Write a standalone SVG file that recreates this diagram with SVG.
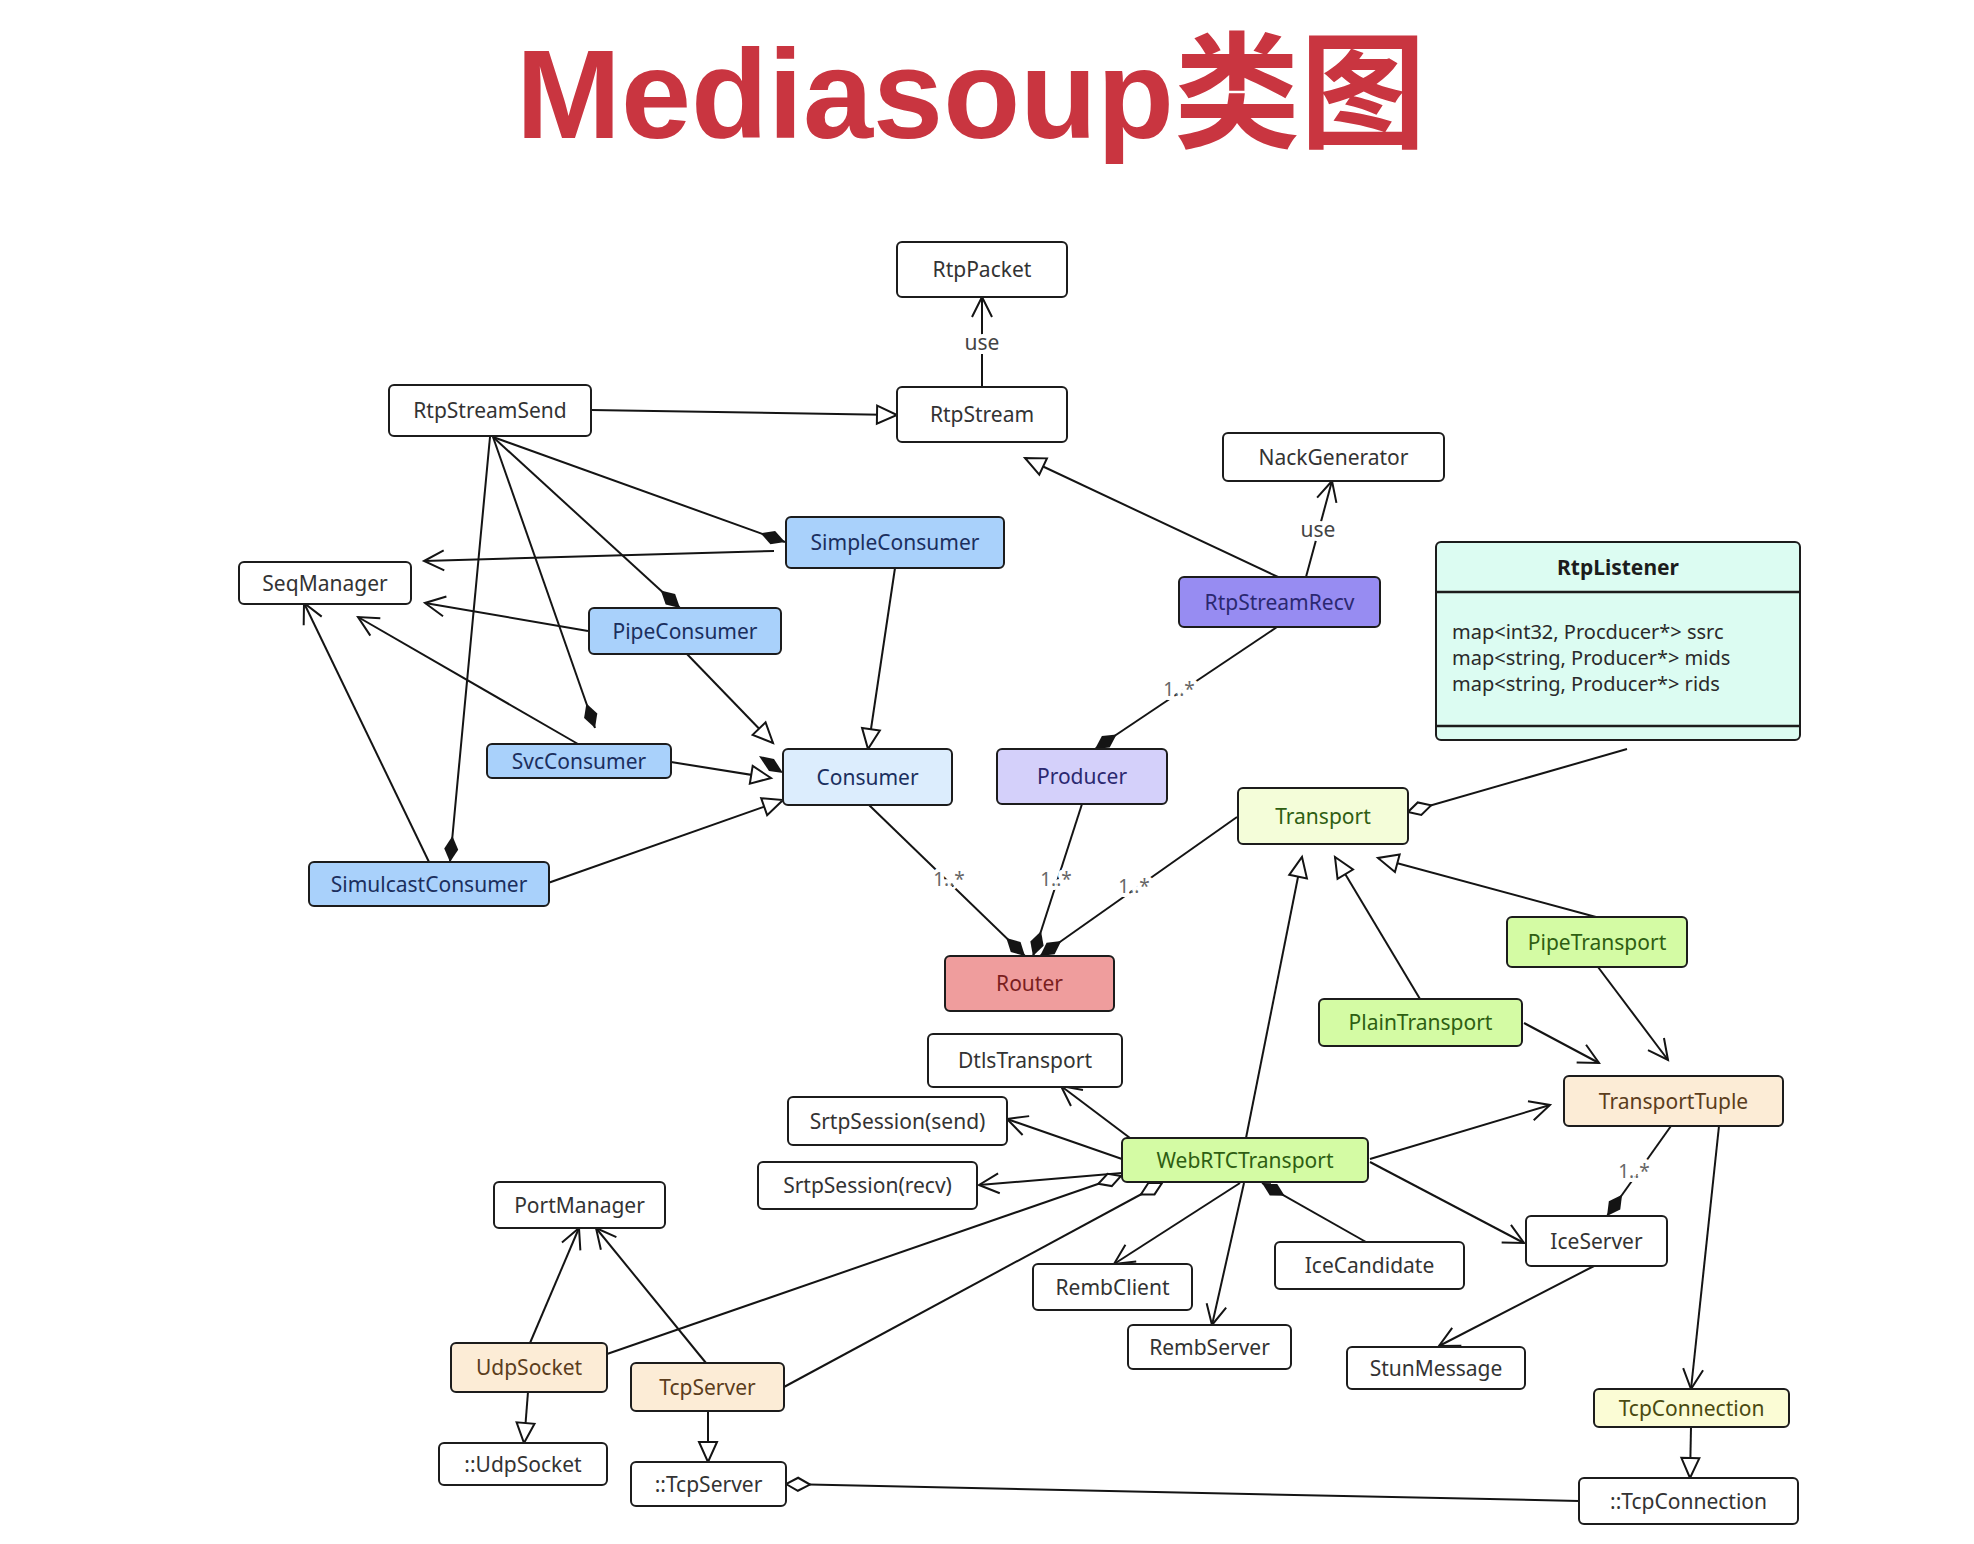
<svg xmlns="http://www.w3.org/2000/svg" width="1974" height="1544" viewBox="0 0 1974 1544">
<style>
.n rect{stroke:#1c1c1c;stroke-width:2}
.n text{font-family:"Noto Sans","Open Sans","Liberation Sans",sans-serif;font-size:21px;text-anchor:middle}
.w rect{fill:#ffffff}.w text{fill:#333333}
.b rect{fill:#a9d1fb}.b text{fill:#1b2f5e}
.lb rect{fill:#dcedfd}.lb text{fill:#1b2f5e}
.pr rect{fill:#d4d0fa}.pr text{fill:#2b2870}
.pu rect{fill:#978cf2}.pu text{fill:#2b2870}
.g rect{fill:#d4fba4}.g text{fill:#2e5e12}
.lg rect{fill:#f4fdd9}.lg text{fill:#2e5e12}
.r rect{fill:#ef9d9d}.r text{fill:#7a1e1e}
.pe rect{fill:#fcecd6}.pe text{fill:#5b3d1c}
.y rect{fill:#fbfcd5}.y text{fill:#4a4a10}
#connectors path{fill:none;stroke:#141414;stroke-width:2}
.lbl{font-family:"Noto Sans","Liberation Sans",sans-serif;font-size:19px;fill:#666;text-anchor:middle;stroke:#fff;stroke-width:8px;paint-order:stroke;stroke-linejoin:round}
.use{font-size:21px;fill:#444}
</style>
<defs>
<marker id="open" viewBox="-24 -14 28 28" refX="0" refY="0" markerWidth="28" markerHeight="28" markerUnits="userSpaceOnUse" orient="auto"><path d="M-20,-10 L0,0 L-20,10" fill="none" stroke="#141414" stroke-width="2"/></marker>
<marker id="gen" viewBox="-26 -14 30 28" refX="0" refY="0" markerWidth="30" markerHeight="28" markerUnits="userSpaceOnUse" orient="auto"><path d="M-20,-9 L0,0 L-20,9 Z" fill="#fff" stroke="#141414" stroke-width="2"/></marker>
<marker id="comp" viewBox="-30 -10 32 20" refX="0" refY="0" markerWidth="32" markerHeight="20" markerUnits="userSpaceOnUse" orient="auto"><path d="M0,0 L-13,-7 L-26,0 L-13,7 Z" fill="#141414"/></marker>
<marker id="agg" viewBox="-28 -10 30 20" refX="0" refY="0" markerWidth="30" markerHeight="20" markerUnits="userSpaceOnUse" orient="auto"><path d="M0,0 L-12,-6.5 L-24,0 L-12,6.5 Z" fill="#fff" stroke="#141414" stroke-width="2"/></marker>
</defs>
<rect width="1974" height="1544" fill="#ffffff"/>
<text x="516" y="138" font-family="'Liberation Sans','Noto Sans CJK SC',sans-serif" font-weight="bold" font-size="126" fill="#c93540">Mediasoup类图</text>

<g id="connectors">
<path d="M982,387 L982,297" marker-end="url(#open)"/>
<path d="M1306,577 L1332,481" marker-end="url(#open)"/>
<path d="M774,551 L424,561" marker-end="url(#open)"/>
<path d="M588,631 L425,603" marker-end="url(#open)"/>
<path d="M578,744 L358,617" marker-end="url(#open)"/>
<path d="M429,862 L304,603" marker-end="url(#open)"/>
<path d="M1524,1023 L1599,1063" marker-end="url(#open)"/>
<path d="M1598,967 L1668,1060" marker-end="url(#open)"/>
<path d="M1370,1159 L1550,1105" marker-end="url(#open)"/>
<path d="M1130,1138 L1061,1086" marker-end="url(#open)"/>
<path d="M1122,1159 L1007,1119" marker-end="url(#open)"/>
<path d="M1122,1173 L979,1185" marker-end="url(#open)"/>
<path d="M1240,1183 L1114,1264" marker-end="url(#open)"/>
<path d="M1244,1183 L1212,1325" marker-end="url(#open)"/>
<path d="M1370,1162 L1524,1243" marker-end="url(#open)"/>
<path d="M1594,1266 L1439,1346" marker-end="url(#open)"/>
<path d="M1719,1126 L1691,1389" marker-end="url(#open)"/>
<path d="M530,1343 L579,1228" marker-end="url(#open)"/>
<path d="M706,1363 L596,1228" marker-end="url(#open)"/>

<path d="M591,410 L897,415" marker-end="url(#gen)"/>
<path d="M1278,577 L1025,458" marker-end="url(#gen)"/>
<path d="M686,653 L773,743" marker-end="url(#gen)"/>
<path d="M895,568 L868,749" marker-end="url(#gen)"/>
<path d="M671,762 L771,778" marker-end="url(#gen)"/>
<path d="M548,883 L783,800" marker-end="url(#gen)"/>
<path d="M1246,1138 L1302,857" marker-end="url(#gen)"/>
<path d="M1420,999 L1335,857" marker-end="url(#gen)"/>
<path d="M1596,917 L1378,858" marker-end="url(#gen)"/>
<path d="M1691,1427 L1690,1478" marker-end="url(#gen)"/>
<path d="M528,1392 L524,1443" marker-end="url(#gen)"/>
<path d="M708,1412 L708,1462" marker-end="url(#gen)"/>

<path d="M493,437 L785,542" marker-end="url(#comp)"/>
<path d="M493,437 L680,608" marker-end="url(#comp)"/>
<path d="M493,437 L595,728" marker-end="url(#comp)"/>
<path d="M490,437 L450,862" marker-end="url(#comp)"/>
<path d="M1277,627 L1095,749" marker-end="url(#comp)"/>
<path d="M869,805 L1025,956" marker-end="url(#comp)"/>
<path d="M1082,804 L1033,956" marker-end="url(#comp)"/>
<path d="M1237,817 L1040,956" marker-end="url(#comp)"/>
<path d="M1366,1242 L1262,1183" marker-end="url(#comp)"/>
<path d="M1671,1126 L1607,1216" marker-end="url(#comp)"/>

<path d="M1627,749 L1408,812" marker-end="url(#agg)"/>
<path d="M607,1354 L1121,1176" marker-end="url(#agg)"/>
<path d="M784,1387 L1162,1183" marker-end="url(#agg)"/>
<path d="M1579,1501 L786,1484" marker-end="url(#agg)"/>

<polygon points="783,773 769,771 759,756 774,759" fill="#141414"/>
<polygon points="498,887 516,878 517,902" fill="#fff" stroke="#141414" stroke-width="2"/>

<text class="lbl use" x="982" y="350">use</text>
<text class="lbl use" x="1318" y="537">use</text>
<text class="lbl" x="1179" y="696">1..*</text>
<text class="lbl" x="949" y="886">1..*</text>
<text class="lbl" x="1056" y="886">1..*</text>
<text class="lbl" x="1134" y="893">1..*</text>
<text class="lbl" x="1634" y="1178">1..*</text>
</g>

<g id="RtpPacket" class="n w"><rect x="897" y="242" width="170" height="55" rx="5"/><text x="982" y="277">RtpPacket</text></g>
<g id="RtpStream" class="n w"><rect x="897" y="387" width="170" height="55" rx="5"/><text x="982" y="422">RtpStream</text></g>
<g id="RtpStreamSend" class="n w"><rect x="389" y="385" width="202" height="51" rx="5"/><text x="490" y="418">RtpStreamSend</text></g>
<g id="NackGenerator" class="n w"><rect x="1223" y="433" width="221" height="48" rx="5"/><text x="1333.5" y="464.5">NackGenerator</text></g>
<g id="SimpleConsumer" class="n b"><rect x="786" y="517" width="218" height="51" rx="5"/><text x="895" y="550">SimpleConsumer</text></g>
<g id="SeqManager" class="n w"><rect x="239" y="562" width="172" height="42" rx="5"/><text x="325" y="590.5">SeqManager</text></g>
<g id="PipeConsumer" class="n b"><rect x="589" y="608" width="192" height="46" rx="5"/><text x="685" y="638.5">PipeConsumer</text></g>
<g id="RtpStreamRecv" class="n pu"><rect x="1179" y="577" width="201" height="50" rx="5"/><text x="1279.5" y="609.5">RtpStreamRecv</text></g>
<g id="RtpListener" class="n">
<rect x="1436" y="542" width="364" height="198" rx="5" fill="#dcfcf2"/>
<path d="M1436,592 H1800 M1436,726 H1800" stroke="#1c1c1c" stroke-width="2.5"/>
<text x="1618" y="575" font-weight="bold" fill="#1c1c1c">RtpListener</text>
<text x="1452" y="639" fill="#2a2a2a" style="text-anchor:start;font-size:20px">map&lt;int32, Procducer*&gt; ssrc</text>
<text x="1452" y="665" fill="#2a2a2a" style="text-anchor:start;font-size:20px">map&lt;string, Producer*&gt; mids</text>
<text x="1452" y="691" fill="#2a2a2a" style="text-anchor:start;font-size:20px">map&lt;string, Producer*&gt; rids</text>
</g>
<g id="SvcConsumer" class="n b"><rect x="487" y="744" width="184" height="34" rx="5"/><text x="579" y="768.5">SvcConsumer</text></g>
<g id="Consumer" class="n lb"><rect x="783" y="749" width="169" height="56" rx="5"/><text x="867.5" y="784.5">Consumer</text></g>
<g id="Producer" class="n pr"><rect x="997" y="749" width="170" height="55" rx="5"/><text x="1082" y="784">Producer</text></g>
<g id="Transport" class="n lg"><rect x="1238" y="788" width="170" height="56" rx="5"/><text x="1323" y="823.5">Transport</text></g>
<g id="SimulcastConsumer" class="n b"><rect x="309" y="862" width="240" height="44" rx="5"/><text x="429" y="891.5">SimulcastConsumer</text></g>
<g id="Router" class="n r"><rect x="945" y="956" width="169" height="55" rx="5"/><text x="1029.5" y="991">Router</text></g>
<g id="PipeTransport" class="n g"><rect x="1507" y="917" width="180" height="50" rx="5"/><text x="1597" y="949.5">PipeTransport</text></g>
<g id="PlainTransport" class="n g"><rect x="1319" y="999" width="203" height="47" rx="5"/><text x="1420.5" y="1030">PlainTransport</text></g>
<g id="DtlsTransport" class="n w"><rect x="928" y="1034" width="194" height="53" rx="5"/><text x="1025" y="1068">DtlsTransport</text></g>
<g id="TransportTuple" class="n pe"><rect x="1564" y="1076" width="219" height="50" rx="5"/><text x="1673.5" y="1108.5">TransportTuple</text></g>
<g id="SrtpSessionSend" class="n w"><rect x="788" y="1097" width="219" height="48" rx="5"/><text x="897.5" y="1128.5">SrtpSession(send)</text></g>
<g id="WebRTCTransport" class="n g"><rect x="1122" y="1138" width="246" height="44" rx="5"/><text x="1245" y="1167.5">WebRTCTransport</text></g>
<g id="SrtpSessionRecv" class="n w"><rect x="758" y="1162" width="219" height="47" rx="5"/><text x="867.5" y="1193">SrtpSession(recv)</text></g>
<g id="PortManager" class="n w"><rect x="494" y="1182" width="171" height="46" rx="5"/><text x="579.5" y="1212.5">PortManager</text></g>
<g id="IceServer" class="n w"><rect x="1526" y="1216" width="141" height="50" rx="5"/><text x="1596.5" y="1248.5">IceServer</text></g>
<g id="IceCandidate" class="n w"><rect x="1275" y="1242" width="189" height="47" rx="5"/><text x="1369.5" y="1273">IceCandidate</text></g>
<g id="RembClient" class="n w"><rect x="1033" y="1264" width="159" height="46" rx="5"/><text x="1112.5" y="1294.5">RembClient</text></g>
<g id="RembServer" class="n w"><rect x="1128" y="1325" width="163" height="44" rx="5"/><text x="1209.5" y="1354.5">RembServer</text></g>
<g id="StunMessage" class="n w"><rect x="1347" y="1347" width="178" height="42" rx="5"/><text x="1436" y="1375.5">StunMessage</text></g>
<g id="UdpSocket" class="n pe"><rect x="451" y="1343" width="156" height="49" rx="5"/><text x="529" y="1375">UdpSocket</text></g>
<g id="TcpServer" class="n pe"><rect x="631" y="1363" width="153" height="48" rx="5"/><text x="707.5" y="1394.5">TcpServer</text></g>
<g id="TcpConnection" class="n y"><rect x="1594" y="1389" width="195" height="38" rx="5"/><text x="1691.5" y="1415.5">TcpConnection</text></g>
<g id="UdpSocketBase" class="n w"><rect x="439" y="1443" width="168" height="42" rx="5"/><text x="523" y="1471.5">::UdpSocket</text></g>
<g id="TcpServerBase" class="n w"><rect x="631" y="1462" width="155" height="44" rx="5"/><text x="708.5" y="1491.5">::TcpServer</text></g>
<g id="TcpConnectionBase" class="n w"><rect x="1579" y="1478" width="219" height="46" rx="5"/><text x="1688.5" y="1508.5">::TcpConnection</text></g>
</svg>
